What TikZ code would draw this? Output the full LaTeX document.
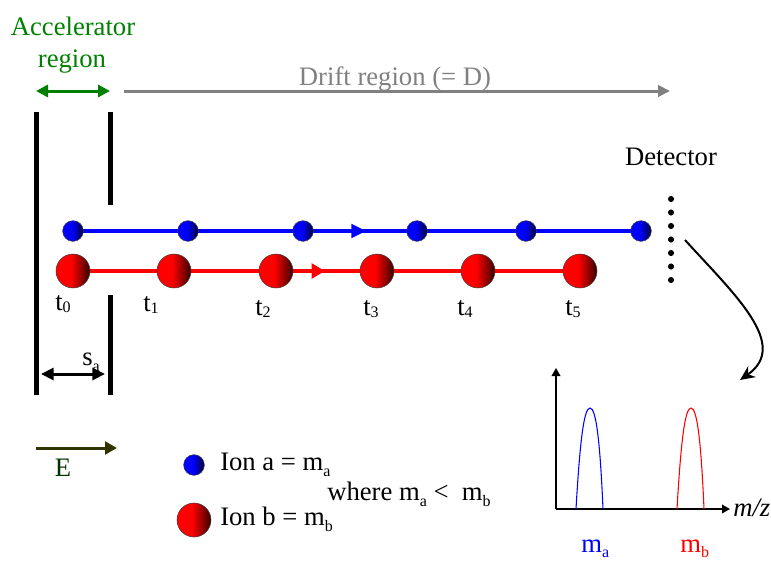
\documentclass[tikz,border=0pt]{standalone}
\usepackage{fontspec}
\setmainfont{LiberationSerif}[Extension=.ttf,UprightFont=*-Regular,ItalicFont=*-Italic,BoldFont=*-Bold,BoldItalicFont=*-BoldItalic]
\usetikzlibrary{arrows.meta,decorations.markings,backgrounds}
\definecolor{accgreen}{HTML}{008000}
\definecolor{driftgray}{HTML}{808080}
\definecolor{earrow}{HTML}{333300}
\definecolor{etext}{HTML}{003300}
\pgfdeclarehorizontalshading{ballred}{100bp}{color(0bp)=(red); color(25bp)=(red); color(47bp)=(red); color(75bp)=(red!22!black); color(100bp)=(red!22!black)}
\pgfdeclarehorizontalshading{ballblue}{100bp}{color(0bp)=(blue); color(25bp)=(blue); color(47bp)=(blue); color(75bp)=(blue!22!black); color(100bp)=(blue!22!black)}
\newcommand\subd[2]{\raisebox{-#1}{\fontsize{12}{12}\selectfont #2}}
\tikzset{
  iona/.style={circle,draw=black!75,line width=0.4pt,minimum size=15.5pt,inner sep=0pt,shading=ballblue},
  ionb/.style={circle,draw=black!75,line width=0.4pt,minimum size=25.5pt,inner sep=0pt,shading=ballred},
  lbl/.style={inner sep=0pt,font=\fontsize{20}{24}\selectfont},
  plate/.style={line width=3.75pt,black},
  accarrow/.style={line width=2.25pt,accgreen,{Triangle[length=9pt,width=9pt]}-{Triangle[length=9pt,width=9pt]}},
  driftarrow/.style={line width=2.25pt,driftgray,-{Triangle[length=9pt,width=8.5pt]}},
  saarrow/.style={line width=2.25pt,black,{Triangle[length=9.5pt,width=9pt]}-{Triangle[length=9.5pt,width=9pt]}},
  earr/.style={line width=2.25pt,earrow,-{Triangle[length=9pt,width=9.5pt]}},
  pathA/.style={line width=3pt,blue,decoration={markings,mark=at position 0.516 with {\arrow{Triangle[length=11pt,width=10pt]}}},postaction=decorate},
  pathB/.style={line width=3pt,red,decoration={markings,mark=at position 0.497 with {\arrow{Triangle[length=10pt,width=11pt]}}},postaction=decorate},
  axisline/.style={line width=1.1pt,black,-{Triangle[length=6pt,width=6.5pt]}},
  curvearrow/.style={line width=1.5pt,black,-{Stealth[length=11pt,width=10pt]}},
  peak/.style={line width=0.8pt}
}
\begin{document}
\begin{tikzpicture}[x=0.75pt,y=-0.75pt]
\useasboundingbox (0,0) rectangle (771,561);
% titles
\node[lbl,anchor=base,text=accgreen] (acc1) at (73,35) {Accelerator};
\node[lbl,anchor=base,text=accgreen] (acc2) at (72,67) {region};
\node[lbl,anchor=base,text=driftgray] (drift) at (395,85) {Drift region (= D)};
\node[lbl,anchor=base] (det) at (671,165) {Detector};
% arrows on top
\coordinate (accL) at (36,91);
\coordinate (accR) at (110,91);
\draw[accarrow] (accL) -- (accR);
\coordinate (drL) at (124,91);
\coordinate (drR) at (670,91);
\draw[driftarrow] (drL) -- (drR);
% plates
\draw[plate] (36,112) -- (36,395);
\draw[plate] (110,112) -- (110,205);
\draw[plate] (110,295) -- (110,395);
% ions a
\node[iona] (a1) at (73,231) {};
\node[iona] (a2) at (188,231) {};
\node[iona] (a3) at (303,231) {};
\node[iona] (a4) at (417,231) {};
\node[iona] (a5) at (526,231) {};
\node[iona] (a6) at (641,231) {};
% ions b
\node[ionb] (b1) at (73,271) {};
\node[ionb] (b2) at (174,271) {};
\node[ionb] (b3) at (276,271) {};
\node[ionb] (b4) at (377,271) {};
\node[ionb] (b5) at (478,271) {};
\node[ionb] (b6) at (580,271) {};
\begin{scope}[on background layer]
\draw[pathA] (a1.center) -- (a6.center);
\draw[pathB] (b1.center) -- (b6.center);
\end{scope}
% time labels
\node[lbl,anchor=base west] (t0) at (55,310) {t\subd{2pt}{0}};
\node[lbl,anchor=base west] (t1) at (143,311) {t\subd{2pt}{1}};
\node[lbl,anchor=base west] (t2) at (255,315) {t\subd{2pt}{2}};
\node[lbl,anchor=base west] (t3) at (363,315) {t\subd{2pt}{3}};
\node[lbl,anchor=base west] (t4) at (457,315) {t\subd{2pt}{4}};
\node[lbl,anchor=base west] (t5) at (565,315) {t\subd{2pt}{5}};
% s_a
\node[lbl,anchor=base west] (sa) at (82,365) {s\subd{5pt}{a}};
\coordinate (saL) at (41,374);
\coordinate (saR) at (105,374);
\draw[saarrow] (saL) -- (saR);
% E field
\coordinate (eL) at (36,448);
\coordinate (eR) at (117,448);
\draw[earr] (eL) -- (eR);
\node[lbl,anchor=base,text=etext] (E) at (63,476) {E};
% detector dots
\foreach \i in {0,...,6} \fill (671,{199+13.5*\i}) circle[radius=2.3pt];
% curve to graph
\coordinate (cs) at (685,240);
\coordinate (ce) at (740,380);
\draw[curvearrow] (cs) .. controls (735,295) and (790,345) .. (ce);
% graph
\coordinate (orig) at (556,509);
\coordinate (ytip) at (556,368);
\coordinate (xtip) at (730,509);
\draw[axisline] (orig) -- (ytip);
\draw[axisline] (orig) -- (xtip);
\node[lbl,anchor=base west,font=\fontsize{20}{24}\selectfont\itshape] (mz) at (733,516) {m/z};
\draw[peak,blue] (576,509) .. controls (580,440) and (584,408) .. (590,408) .. controls (596,408) and (600,440) .. (603,509);
\draw[peak,red] (677,509) .. controls (681,440) and (685,408) .. (691,408) .. controls (697,408) and (701,440) .. (704,509);
\node[lbl,anchor=base west,text=blue] (ma) at (581,552) {m\subd{4pt}{a}};
\node[lbl,anchor=base west,text=red] (mb) at (680,552) {m\subd{4pt}{b}};
% legend
\node[iona] (la) at (194,465) {};
\node[ionb] (lb) at (194,520) {};
\node[lbl,anchor=base west] (lta) at (220,470) {Ion a = m\subd{5pt}{a}};
\node[lbl,anchor=base west] (ltb) at (220,525) {Ion b = m\subd{5pt}{b}};
\node[lbl,anchor=base west] (where) at (327,500) {where m\subd{5pt}{a} <~~m\subd{5pt}{b}};
\end{tikzpicture}
\end{document}
